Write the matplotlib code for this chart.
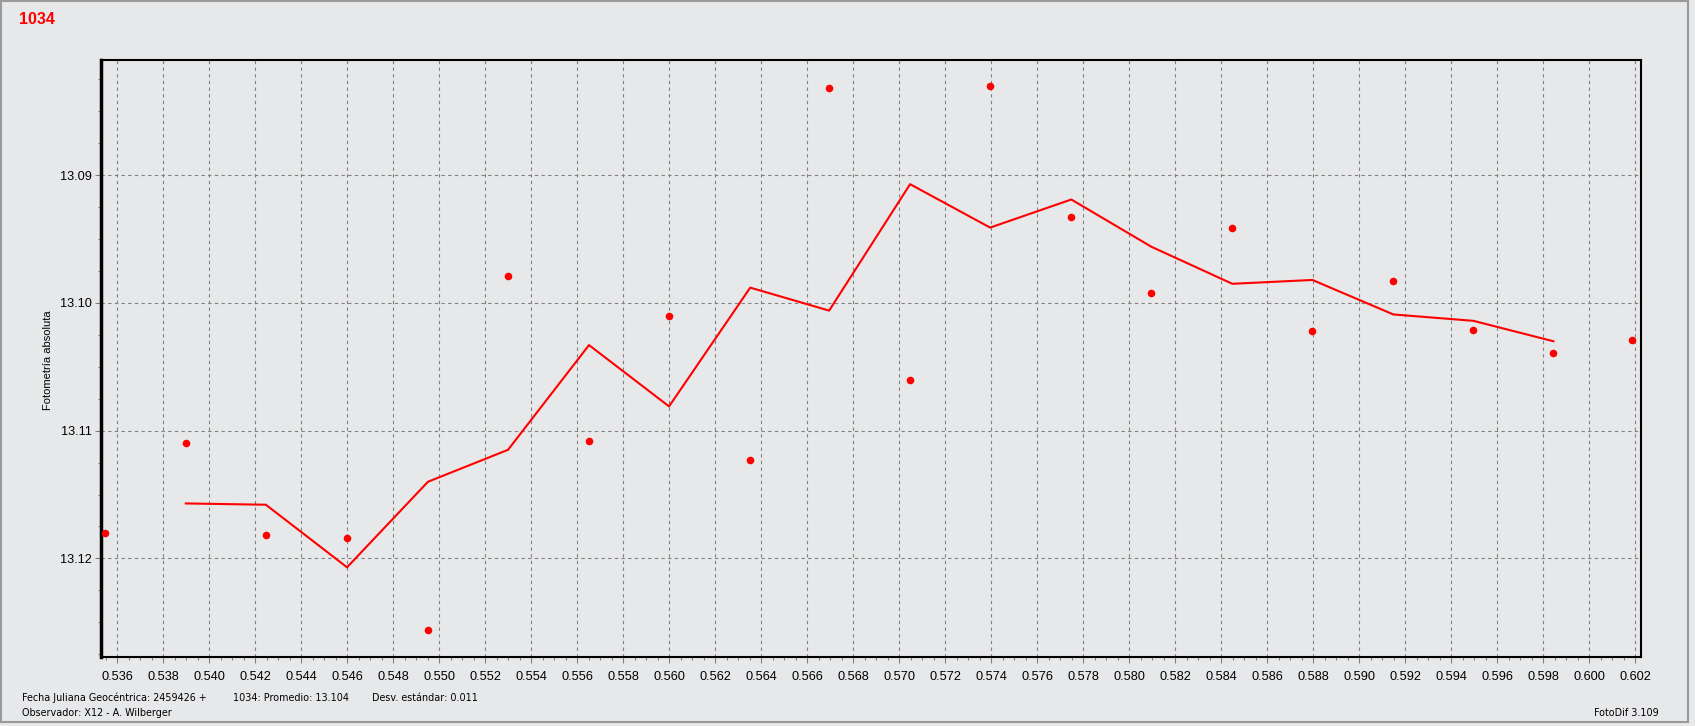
import matplotlib
matplotlib.use("Agg")
import matplotlib.pyplot as plt
from matplotlib.ticker import MultipleLocator, FormatStrFormatter
from matplotlib.patches import Rectangle

# Data
jd_frac = [0.53546, 0.53898, 0.54246, 0.54599, 0.54951, 0.55299, 0.55651,
           0.55999, 0.56352, 0.56695, 0.57047, 0.57395, 0.57748, 0.58096,
           0.58448, 0.58796, 0.59148, 0.59496, 0.59844, 0.60187]
mag = [13.1180, 13.1110, 13.1182, 13.1184, 13.1256, 13.0979, 13.1108,
       13.1010, 13.1123, 13.0832, 13.1060, 13.0830, 13.0933, 13.0992,
       13.0941, 13.1022, 13.0983, 13.1021, 13.1039, 13.1029]
# smoothed curve (from 2nd to 19th point)
line_x = jd_frac[1:-1]
line_y = [13.1157, 13.1158, 13.1207, 13.1140, 13.1115, 13.1033, 13.1081,
          13.0988, 13.1006, 13.0907, 13.0941, 13.0919, 13.0956, 13.0985,
          13.0982, 13.1009, 13.1014, 13.1030]

bg = "#e7e8ea"
red = "#ff0000"
W, H = 1695, 726

fig = plt.figure(figsize=(W/100, H/100), dpi=100, facecolor=bg)
ax = fig.add_axes([100.7/W, 1-656.7/H, (1641.4-100.7)/W, (656.7-60.3)/H])
ax.set_facecolor(bg)

ax.plot(line_x, line_y, color=red, lw=1.5, zorder=3)
ax.scatter(jd_frac, mag, s=30, color=red, zorder=4, linewidths=0)

ax.set_xlim(0.53528, 0.602265)
ax.set_ylim(13.1277, 13.0810)

ax.xaxis.set_major_locator(MultipleLocator(0.002))
ax.xaxis.set_minor_locator(MultipleLocator(0.0005))
ax.xaxis.set_major_formatter(FormatStrFormatter("%.3f"))
ax.yaxis.set_major_locator(MultipleLocator(0.01))
ax.yaxis.set_minor_locator(MultipleLocator(0.0025))
ax.yaxis.set_major_formatter(FormatStrFormatter("%.2f"))

ax.grid(True, which="major", color="#808080", linestyle=(0, (3, 3)), lw=0.8)
ax.tick_params(axis="both", which="major", length=4, width=0.8, color="#808080",
               labelsize=9.2)
ax.tick_params(axis="x", which="major", pad=6)
ax.tick_params(axis="y", which="major", pad=2)
ax.tick_params(axis="both", which="minor", length=2.5, width=0.8, color="#808080")
for lbl in ax.get_xticklabels() + ax.get_yticklabels():
    lbl.set_fontfamily("Liberation Sans")

for s in ["top", "right", "bottom"]:
    ax.spines[s].set_linewidth(1.5)
    ax.spines[s].set_color("black")
ax.spines["left"].set_linewidth(2.5)
ax.spines["left"].set_color("black")

fig.text(48.3/W, 1-360.5/H, "Fotometría absoluta", rotation=90, fontsize=8,
         ha="center", va="center", family="Liberation Sans")

fig.text(18.5/W, 1-19.5/H, "1034", color=red, fontsize=11.5, fontweight="bold",
         va="center", ha="left", family="Liberation Sans")

fs = 6.9
fig.text(22/W, 1-698/H, "Fecha Juliana Geocéntrica: 2459426 +", fontsize=fs, va="center", family="DejaVu Sans")
fig.text(233/W, 1-698/H, "1034: Promedio: 13.104", fontsize=fs, va="center", family="DejaVu Sans")
fig.text(372/W, 1-698/H, "Desv. estándar: 0.011", fontsize=fs, va="center", family="DejaVu Sans")
fig.text(22/W, 1-713.5/H, "Observador: X12 - A. Wilberger", fontsize=fs, va="center", family="DejaVu Sans")
fig.text(1659/W, 1-713.5/H, "FotoDif 3.109", fontsize=fs, va="center", ha="right", family="DejaVu Sans")

# window border
fig.patches.append(Rectangle((1/W, 4/H), 1687/W, 721/H, transform=fig.transFigure,
                             fill=False, edgecolor="#9a9a9a", lw=1.5))

fig.savefig("out.png", dpi=100, facecolor=bg)
